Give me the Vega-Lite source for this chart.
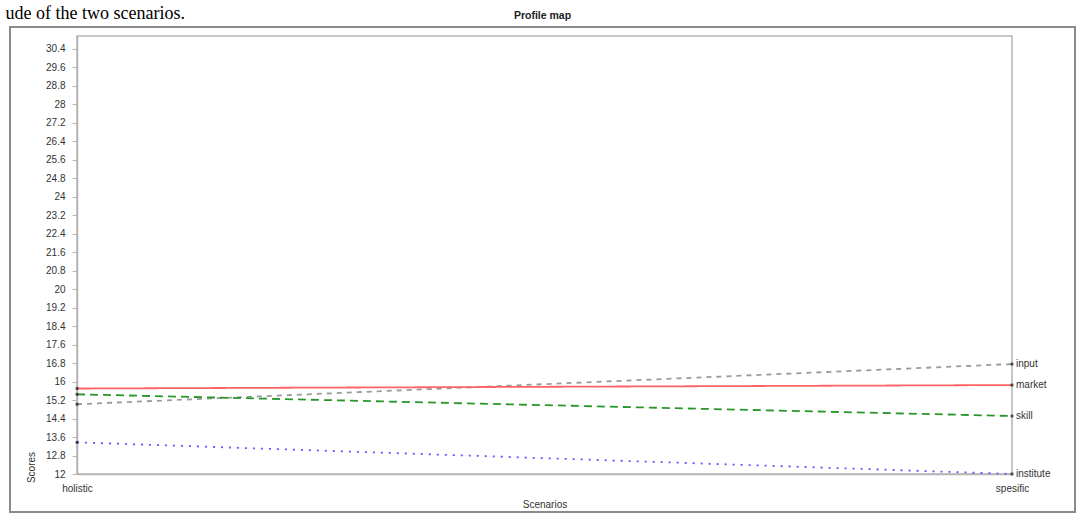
{
  "$schema": "https://vega.github.io/schema/vega-lite/v6.json",
  "autosize": "none",
  "width": 935,
  "height": 438,
  "padding": {"left": 77, "top": 36, "right": 66, "bottom": 43},
  "background": "white",
  "config": {
    "font": "Liberation Sans",
    "view": {"stroke": "#b4b4b4", "strokeWidth": 1.5},
    "axis": {"labelFont": "Liberation Sans", "titleFont": "Liberation Sans", "labelColor": "#333333", "titleColor": "#333333", "labelFontSize": 10, "titleFontSize": 10, "titleFontWeight": "normal", "grid": false, "domainColor": "#b4b4b4", "domainWidth": 1.5, "tickColor": "#b4b4b4"}
  },
  "data": {
    "values": [
      {"scenario": "holistic", "variable": "input", "score": 15.02},
      {"scenario": "spesific", "variable": "input", "score": 16.76},
      {"scenario": "holistic", "variable": "market", "score": 15.7},
      {"scenario": "spesific", "variable": "market", "score": 15.85},
      {"scenario": "holistic", "variable": "skill", "score": 15.45},
      {"scenario": "spesific", "variable": "skill", "score": 14.51},
      {"scenario": "holistic", "variable": "institute", "score": 13.37},
      {"scenario": "spesific", "variable": "institute", "score": 12.0}
    ]
  },
  "layer": [
    {
      "data": {"values": [{"frame": "outer"}]},
      "mark": {"type": "rect", "fill": null, "stroke": "#8a8a8a", "strokeWidth": 2, "clip": false},
      "encoding": {
        "x": {"value": -67},
        "x2": {"value": 998},
        "y": {"value": -9},
        "y2": {"value": 476}
      }
    },
    {
      "mark": {"type": "line", "clip": false},
      "encoding": {
        "x": {"field": "scenario", "type": "nominal", "sort": ["holistic", "spesific"],
              "scale": {"type": "point", "padding": 0},
              "axis": {"orient": "bottom", "title": "Scenarios", "labelAngle": 0, "ticks": false, "labelPadding": 9, "titlePadding": 6, "domainColor": "#b4b4b4"}},
        "y": {"field": "score", "type": "quantitative",
              "scale": {"domain": [12, 30.96], "nice": false, "zero": false},
              "axis": {"title": "Scores", "values": [12, 12.8, 13.6, 14.4, 15.2, 16, 16.8, 17.6, 18.4, 19.2, 20, 20.8, 21.6, 22.4, 23.2, 24, 24.8, 25.6, 26.4, 27.2, 28, 28.8, 29.6, 30.4],
                       "format": ".1~f", "tickSize": 5, "labelPadding": 7,
                       "titleX": -46, "titleY": 431, "titleAngle": -90, "titleAlign": "center", "titleBaseline": "middle"}},
        "color": {"field": "variable", "type": "nominal",
                  "scale": {"domain": ["input", "market", "skill", "institute"], "range": ["#9a9a9a", "#ff6464", "#2a962a", "#5a5aff"]},
                  "legend": null},
        "strokeDash": {"field": "variable", "type": "nominal",
                       "scale": {"domain": ["input", "market", "skill", "institute"], "range": [[5, 5], [1, 0], [8, 5], [2, 6]]},
                       "legend": null},
        "strokeWidth": {"field": "variable", "type": "nominal",
                        "scale": {"domain": ["input", "market", "skill", "institute"], "range": [1.8, 1.8, 2.6, 2.4]},
                        "legend": null}
      }
    },
    {
      "mark": {"type": "point", "shape": "square", "filled": true, "color": "#111111", "size": 8, "clip": false},
      "encoding": {
        "x": {"field": "scenario", "type": "nominal", "sort": ["holistic", "spesific"], "axis": null},
        "y": {"field": "score", "type": "quantitative", "axis": null}
      }
    },
    {
      "transform": [{"filter": "datum.scenario === 'spesific'"}],
      "mark": {"type": "text", "align": "left", "baseline": "middle", "dx": 4, "fontSize": 10, "color": "#333333", "font": "Liberation Sans", "clip": false},
      "encoding": {
        "x": {"field": "scenario", "type": "nominal", "sort": ["holistic", "spesific"],
              "axis": {"orient": "top", "title": "Profile map", "labels": false, "ticks": false, "domain": false,
                       "titleFontWeight": "bold", "titleColor": "#222222", "titleFontSize": 10.5,
                       "titleX": 465, "titleY": -21, "titleAlign": "center", "titleBaseline": "middle"}},
        "y": {"field": "score", "type": "quantitative",
              "axis": {"orient": "right", "title": "ude of the two scenarios.", "labels": false, "ticks": false, "domain": false,
                       "titleFont": "Liberation Serif", "titleFontSize": 18, "titleColor": "#000000", "titleFontWeight": "normal",
                       "titleX": -1007, "titleY": -18, "titleAngle": 0, "titleAlign": "left", "titleBaseline": "alphabetic"}},
        "text": {"field": "variable"}
      }
    }
  ],
  "resolve": {"axis": {"x": "independent", "y": "independent"}}
}
